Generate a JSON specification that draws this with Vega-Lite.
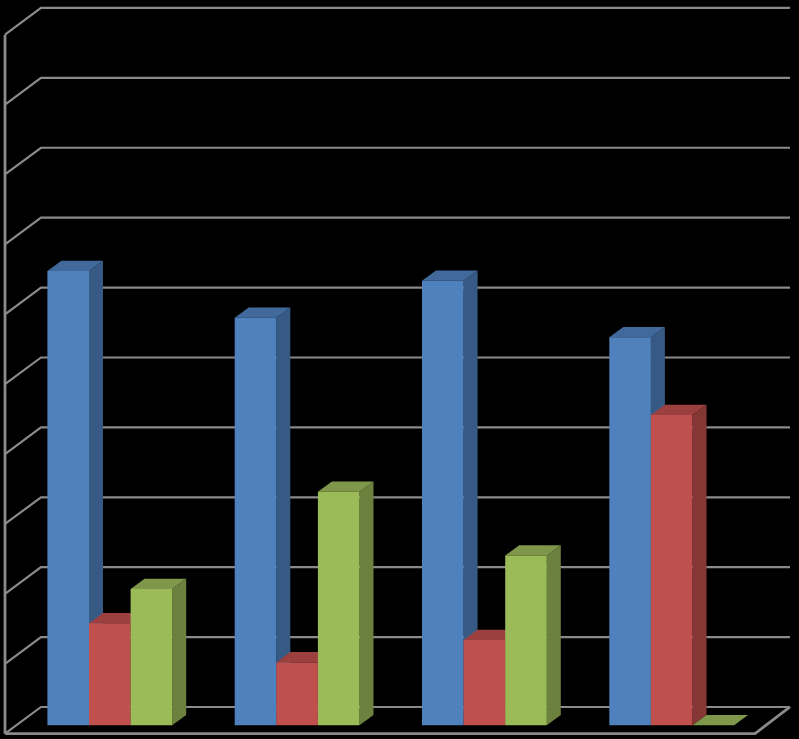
{
"$schema":"https://vega.github.io/schema/vega-lite/v6.json",
"width":799,"height":739,
"autosize":{"type":"none"},
"padding":0,
"background":"#000000",
"view":{"stroke":null},
"datasets":{
"levels":[{"level":0},{"level":1},{"level":2},{"level":3},{"level":4},{"level":5},{"level":6},{"level":7},{"level":8},{"level":9},{"level":10}],
"bars":[
{"group":0,"series":0,"value":6.5},{"group":0,"series":1,"value":1.46},{"group":0,"series":2,"value":1.95},
{"group":1,"series":0,"value":5.83},{"group":1,"series":1,"value":0.9},{"group":1,"series":2,"value":3.34},
{"group":2,"series":0,"value":6.36},{"group":2,"series":1,"value":1.22},{"group":2,"series":2,"value":2.43},
{"group":3,"series":0,"value":5.55},{"group":3,"series":1,"value":4.44},{"group":3,"series":2,"value":0}
],
"frame":[
{"edge":"wall","px":5,"v":-0.12},{"edge":"wall","px":5,"v":9.88},
{"edge":"floor","px":5,"v":-0.12},{"edge":"floor","px":755,"v":-0.12},{"edge":"floor","px":790,"v":0.262}
]},
"layer":[
{"data":{"name":"levels"},
"transform":[
{"calculate":"[5,41,790]","as":"xs"},
{"calculate":"[datum.level-0.12,datum.level+0.262,datum.level+0.262]","as":"vs"},
{"flatten":["xs","vs"]}],
"mark":{"type":"line","stroke":"#8a8a8a","strokeWidth":2.2,"clip":false},
"encoding":{
"x":{"field":"xs","type":"quantitative","scale":{"domain":[0,799],"nice":false,"zero":false},"axis":null},
"y":{"field":"vs","type":"quantitative","scale":{"domain":[-0.196,10.376],"nice":false,"zero":false},"axis":null},
"detail":{"field":"level"}}},
{"data":{"name":"frame"},
"mark":{"type":"line","stroke":"#8a8a8a","strokeWidth":2.8,"clip":false},
"encoding":{
"x":{"field":"px","type":"quantitative","sort":null,"axis":null},
"y":{"field":"v","type":"quantitative","axis":null},
"detail":{"field":"edge"}}},
{"data":{"name":"bars"},
"transform":[
{"calculate":"47.4+187.3*datum.group+41.6*datum.series","as":"x0"},
{"calculate":"datum.x0+41.6","as":"x1"},
{"calculate":"0.147","as":"d"},
{"calculate":"[0,1,2]","as":"face"},
{"flatten":["face"]},
{"calculate":"datum.face==0?[datum.x1,datum.x1+14]:datum.face==1?[datum.x0,datum.x0+14,datum.x1,datum.x1+14]:[datum.x0,datum.x1]","as":"xs"},
{"calculate":"datum.face==0?[datum.value,datum.value+datum.d]:datum.face==1?[datum.value,datum.value+datum.d,datum.value+datum.d,datum.value+datum.d]:[datum.value,datum.value]","as":"ys"},
{"calculate":"datum.face==0?[0,datum.d]:datum.face==1?[datum.value,datum.value,datum.value,datum.value+datum.d]:[0,0]","as":"y2s"},
{"flatten":["xs","ys","y2s"]},
{"calculate":"datum.group*100+datum.series*10+datum.face","as":"faceId"},
{"calculate":"datum.series+'-'+datum.face","as":"shade"}],
"mark":{"type":"area","orient":"vertical","clip":false,"interpolate":"linear"},
"encoding":{
"x":{"field":"xs","type":"quantitative","axis":null},
"y":{"field":"ys","type":"quantitative","axis":null,"stack":null},
"y2":{"field":"y2s"},
"detail":{"field":"faceId"},
"fill":{"field":"shade","type":"nominal","legend":null,"scale":{
"domain":["0-0","0-1","0-2","1-0","1-1","1-2","2-0","2-1","2-2"],
"range":["#375a84","#41699c","#4f81bd","#853735","#9c403f","#c0504d","#6b813d","#7e974a","#9bbb59"]}}}}
]}
